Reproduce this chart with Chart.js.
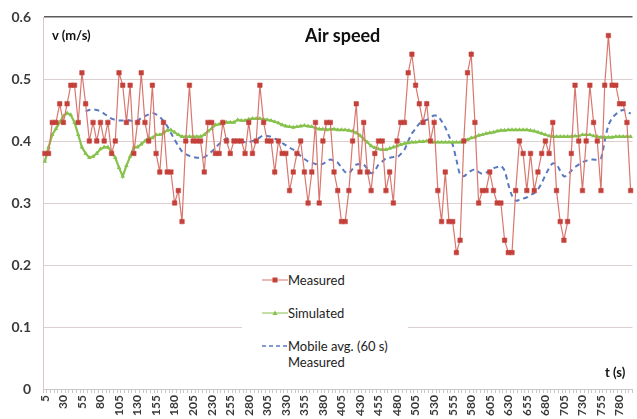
<!DOCTYPE html>
<html lang="en">
<head>
<meta charset="UTF-8">
<title>Air speed</title>
<script src="https://cdn.jsdelivr.net/npm/chart.js"></script>
<style>
  body { margin: 0; background: #fff; font-family: Lato, "Open Sans", sans-serif; }
  #wrap { position: relative; width: 637px; height: 419px; overflow: hidden; }
  .lbl { position: absolute; font-weight: bold; color: #111; white-space: nowrap; }
  #title { left: 305px; top: 24px; font-size: 18px; line-height: 22px; }
  #ylab { left: 52px; top: 27px; font-size: 13px; line-height: 16px; }
  #xlab { left: 605px; top: 364px; font-size: 13px; line-height: 16px; }
  #legend { position: absolute; left: 242px; top: 268px; width: 166px; height: 106px; background: #fff;
            font-size: 13px; color: #222; padding-top: 4px; box-sizing: border-box; }
  .row { display: flex; align-items: flex-start; margin-bottom: 17px; }
  .row svg { margin-left: 20px; flex: none; }
  .row span { line-height: 16px; white-space: pre-line; }
</style>
</head>
<body>
<div id="wrap">
  <canvas id="chart"></canvas>
  <div class="lbl" id="title">Air speed</div>
  <div class="lbl" id="ylab">v (m/s)</div>
  <div class="lbl" id="xlab">t (s)</div>
  <div id="legend"></div>
</div>
<script>
  // time in s (one sample every 5 s)
  const times = [5,10,15,20,25,30,35,40,45,50,55,60,65,70,75,80,85,90,95,100,
    105,110,115,120,125,130,135,140,145,150,155,160,165,170,175,180,185,190,195,200,
    205,210,215,220,225,230,235,240,245,250,255,260,265,270,275,280,285,290,295,300,
    305,310,315,320,325,330,335,340,345,350,355,360,365,370,375,380,385,390,395,400,
    405,410,415,420,425,430,435,440,445,450,455,460,465,470,475,480,485,490,495,500,
    505,510,515,520,525,530,535,540,545,550,555,560,565,570,575,580,585,590,595,600,
    605,610,615,620,625,630,635,640,645,650,655,660,665,670,675,680,685,690,695,700,
    705,710,715,720,725,730,735,740,745,750,755,760,765,770,775,780,785,790,795];

  const measured = [0.38,0.38,0.43,0.43,0.46,0.43,0.46,0.49,0.49,0.43,
    0.51,0.46,0.40,0.43,0.40,0.43,0.40,0.43,0.38,0.40,
    0.51,0.49,0.43,0.49,0.38,0.43,0.51,0.43,0.40,0.49,
    0.38,0.35,0.43,0.35,0.35,0.30,0.32,0.27,0.40,0.49,
    0.40,0.40,0.40,0.35,0.43,0.43,0.38,0.38,0.43,0.40,
    0.38,0.40,0.40,0.40,0.38,0.43,0.38,0.40,0.49,0.43,
    0.40,0.40,0.35,0.40,0.38,0.38,0.32,0.35,0.38,0.40,
    0.35,0.30,0.35,0.43,0.30,0.40,0.43,0.43,0.35,0.32,
    0.27,0.27,0.32,0.40,0.46,0.35,0.43,0.35,0.32,0.38,
    0.40,0.40,0.32,0.35,0.30,0.40,0.43,0.43,0.51,0.54,
    0.49,0.46,0.43,0.46,0.40,0.43,0.32,0.27,0.35,0.27,
    0.27,0.22,0.24,0.40,0.51,0.54,0.43,0.30,0.32,0.32,
    0.35,0.32,0.30,0.30,0.24,0.22,0.22,0.32,0.40,0.38,
    0.32,0.38,0.32,0.35,0.38,0.40,0.38,0.43,0.32,0.27,
    0.24,0.27,0.38,0.49,0.40,0.32,0.40,0.49,0.43,0.40,
    0.32,0.49,0.57,0.49,0.49,0.46,0.46,0.43,0.32];

  const simulated = [0.367,0.39,0.41,0.42,0.43,0.44,0.445,0.442,0.43,0.41,
    0.39,0.38,0.373,0.375,0.38,0.387,0.39,0.39,0.383,0.373,
    0.357,0.343,0.36,0.375,0.39,0.39,0.395,0.40,0.405,0.405,
    0.41,0.41,0.413,0.417,0.418,0.414,0.41,0.407,0.407,0.407,
    0.407,0.407,0.407,0.41,0.416,0.42,0.426,0.427,0.43,0.43,
    0.43,0.43,0.434,0.433,0.433,0.435,0.436,0.436,0.436,0.435,
    0.434,0.433,0.431,0.429,0.426,0.424,0.423,0.422,0.423,0.424,
    0.425,0.424,0.423,0.421,0.419,0.419,0.418,0.419,0.419,0.418,
    0.418,0.418,0.417,0.416,0.413,0.409,0.403,0.398,0.392,0.389,
    0.387,0.386,0.386,0.388,0.39,0.392,0.394,0.396,0.397,0.398,
    0.398,0.399,0.399,0.40,0.399,0.398,0.398,0.398,0.398,0.398,
    0.398,0.398,0.398,0.399,0.402,0.405,0.406,0.409,0.41,0.412,
    0.413,0.414,0.416,0.417,0.417,0.418,0.418,0.418,0.418,0.418,
    0.418,0.417,0.416,0.414,0.412,0.41,0.408,0.407,0.407,0.407,
    0.407,0.407,0.407,0.408,0.408,0.41,0.41,0.41,0.408,0.407,
    0.406,0.406,0.406,0.406,0.407,0.407,0.407,0.407,0.407];

  // 60 s moving average, starts once 12 samples exist
  const mobileAvg = [null,null,null,null,null,null,null,null,null,null,
    null,0.448,0.45,0.451,0.45,0.448,0.444,0.44,0.436,0.434,
    0.433,0.433,0.434,0.433,0.432,0.433,0.437,0.44,0.443,0.445,
    0.443,0.439,0.432,0.424,0.413,0.402,0.392,0.383,0.379,0.376,
    0.374,0.373,0.373,0.374,0.378,0.383,0.389,0.395,0.40,0.404,
    0.404,0.402,0.40,0.399,0.398,0.398,0.40,0.402,0.406,0.409,
    0.408,0.407,0.404,0.401,0.397,0.393,0.389,0.386,0.381,0.376,
    0.371,0.367,0.365,0.363,0.362,0.363,0.367,0.37,0.368,0.365,
    0.357,0.35,0.348,0.355,0.362,0.363,0.362,0.355,0.348,0.352,
    0.362,0.367,0.372,0.373,0.374,0.374,0.379,0.386,0.40,0.412,
    0.42,0.428,0.432,0.434,0.438,0.441,0.44,0.432,0.422,0.408,
    0.394,0.37,0.346,0.343,0.348,0.352,0.354,0.35,0.347,0.349,
    0.352,0.356,0.358,0.36,0.352,0.33,0.312,0.304,0.305,0.307,
    0.309,0.313,0.316,0.322,0.332,0.345,0.356,0.364,0.362,0.352,
    0.343,0.345,0.352,0.358,0.362,0.366,0.368,0.37,0.37,0.37,
    0.372,0.40,0.425,0.437,0.443,0.448,0.45,0.448,0.444];

  const yTicks = { min: 0, max: 0.6, step: 0.1 };

  const chart = new Chart(document.getElementById('chart'), {
    type: 'line',
    data: {
      labels: times,
      datasets: [
        {
          label: 'Measured',
          data: measured,
          borderColor: '#d9776f',
          borderWidth: 1.2,
          pointStyle: 'rect',
          pointRadius: 3.2,
          pointBackgroundColor: '#c4403a',
          pointBorderColor: '#c4403a',
          pointBorderWidth: 0.5
        },
        {
          label: 'Simulated',
          data: simulated,
          borderColor: '#86c24c',
          borderWidth: 2.2,
          pointStyle: 'triangle',
          pointRadius: 2.6,
          pointBackgroundColor: '#86c24c',
          pointBorderColor: '#86c24c',
          pointBorderWidth: 0
        },
        {
          label: 'Mobile avg. (60 s)\nMeasured',
          data: mobileAvg,
          borderColor: '#5878c2',
          borderWidth: 2,
          borderDash: [5, 4],
          pointRadius: 0,
          tension: 0.3
        }
      ]
    },
    options: {
      responsive: true,
      maintainAspectRatio: false,
      animation: false,
      layout: { padding: { top: 17, right: 0, bottom: 0, left: 0 } },
      plugins: { legend: { display: false }, tooltip: { enabled: false } },
      scales: {
        x: {
          offset: true,
          grid: { drawOnChartArea: false, tickLength: 4, color: '#c8c8c8', offset: true },
          border: { color: '#c8c8c8' },
          ticks: {
            autoSkip: false, minRotation: 90, maxRotation: 90, padding: 2,
            color: '#3a3a3a', font: { family: 'Lato', size: 12, weight: 'bold' },
            callback: (v, i) => (i % 5 === 0 ? times[i] : '')
          },
          afterFit: s => { s.height = 30; s.paddingLeft = 0; s.paddingRight = 0; }
        },
        y: {
          min: yTicks.min,
          max: yTicks.max,
          ticks: {
            stepSize: yTicks.step, padding: 12,
            color: '#3a3a3a', font: { family: 'Lato', size: 14, weight: 'bold' },
            callback: v => (v === 0 ? '0' : v.toFixed(1))
          },
          grid: {
            drawTicks: false,
            color: c => (c.tick.value >= 0.59 ? '#5a5a5a' : '#dccfcf'),
            lineWidth: c => (c.tick.value >= 0.59 ? 1.5 : 1)
          },
          border: { color: '#dcc6c6' },
          afterFit: s => { s.width = 43; s.paddingTop = 0; s.paddingBottom = 0; }
        }
      }
    }
  });

  // legend drawn in the plot, like the spreadsheet one
  const legend = document.getElementById('legend');
  chart.data.datasets.forEach(ds => {
    const row = document.createElement('div');
    row.className = 'row';
    let mark = '';
    if (ds.pointStyle === 'rect') {
      mark = `<rect x="10.5" y="5.5" width="5" height="5" fill="${ds.pointBackgroundColor}"/>`;
    } else if (ds.pointStyle === 'triangle') {
      mark = `<polygon points="13,5.5 15.5,10 10.5,10" fill="${ds.pointBackgroundColor}"/>`;
    }
    const dash = ds.borderDash ? `stroke-dasharray="4 3"` : '';
    const w = ds.borderDash ? 1.5 : 1;
    row.innerHTML = `<svg width="26" height="16"><line x1="0" y1="8" x2="26" y2="8" stroke="${ds.borderColor}" stroke-width="${w}" ${dash}/>${mark}</svg><span></span>`;
    row.querySelector('span').textContent = ds.label;
    legend.appendChild(row);
  });
</script>
</body>
</html>
